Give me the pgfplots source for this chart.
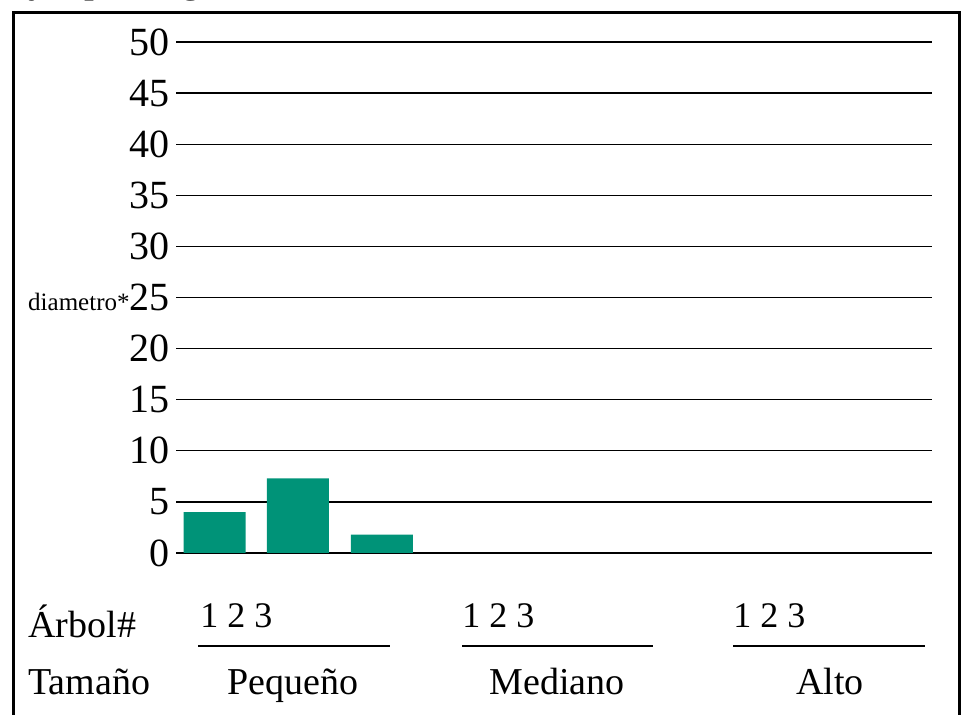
\documentclass[border=0pt]{standalone}
\usepackage{fontspec}
\setmainfont{Liberation Serif}
\usepackage{pgfplots}
\pgfplotsset{compat=1.18}
\definecolor{barteal}{RGB}{0,147,120}

\begin{document}
\begin{tikzpicture}
% page = 961 x 715 px, 1px = 0.5pt, y measured from the bottom
\begin{scope}[x=0.5pt,y=0.5pt]
\useasboundingbox (0,0) rectangle (961,715);
% frame (open at the bottom)
\draw[line width=1.5pt] (13,-5) -- (13,702) -- (959,702) -- (959,-5);
% clipped remains of the line above the frame
\node[anchor=base west,inner sep=0pt,font=\fontsize{20}{24}\selectfont] at (28,722) {y};
\node[anchor=base west,inner sep=0pt,font=\fontsize{20}{24}\selectfont] at (84,722) {p};
\node[anchor=base west,inner sep=0pt,font=\fontsize{20}{24}\selectfont] at (181,722) {g};
\end{scope}

\begin{axis}[
  scale only axis, width=378pt, height=255.5pt,
  at={(88pt,81pt)}, anchor=south west,
  xmin=0, xmax=9, ymin=0, ymax=50,
  xtick=\empty,
  ytick={0,5,...,50},
  yticklabels={0,5,10,15,20,{{\fontsize{12.5}{14}\selectfont diametro*}25},30,35,40,45,50},
  yticklabel style={anchor=east, inner sep=0pt, xshift=-3pt, font=\fontsize{20}{23}\selectfont},
  major tick length=0pt,
  axis line style={draw=none},
  ymajorgrids, grid style={black, line width=0.65pt},
  clip=false,
]
\addplot[ybar, bar width=31pt, bar shift=0pt, fill=barteal, draw=none]
  coordinates {(0.46,4.0) (1.45,7.3) (2.45,1.8)};
\end{axis}

\begin{scope}[x=0.5pt,y=0.5pt]
\node[anchor=base west,inner sep=0pt,font=\fontsize{19}{22}\selectfont] at (28,77) {Árbol\#};
\node[anchor=base west,inner sep=0pt,font=\fontsize{18}{22}\selectfont] at (200,87) {1 2 3};
\node[anchor=base west,inner sep=0pt,font=\fontsize{18}{22}\selectfont] at (462,87) {1 2 3};
\node[anchor=base west,inner sep=0pt,font=\fontsize{18}{22}\selectfont] at (733,87) {1 2 3};
\draw[line width=0.65pt] (198,69) -- (390,69);
\draw[line width=0.65pt] (462,69) -- (653,69);
\draw[line width=0.65pt] (733,69) -- (925,69);
\node[anchor=base west,inner sep=0pt,font=\fontsize{19}{22}\selectfont] at (28,20) {Tamaño};
\node[anchor=base,inner sep=0pt,font=\fontsize{19}{22}\selectfont] at (293,20) {Pequeño};
\node[anchor=base,inner sep=0pt,font=\fontsize{19}{22}\selectfont] at (557,20) {Mediano};
\node[anchor=base,inner sep=0pt,font=\fontsize{19}{22}\selectfont] at (830,20) {Alto};
\end{scope}
\end{tikzpicture}
\end{document}
